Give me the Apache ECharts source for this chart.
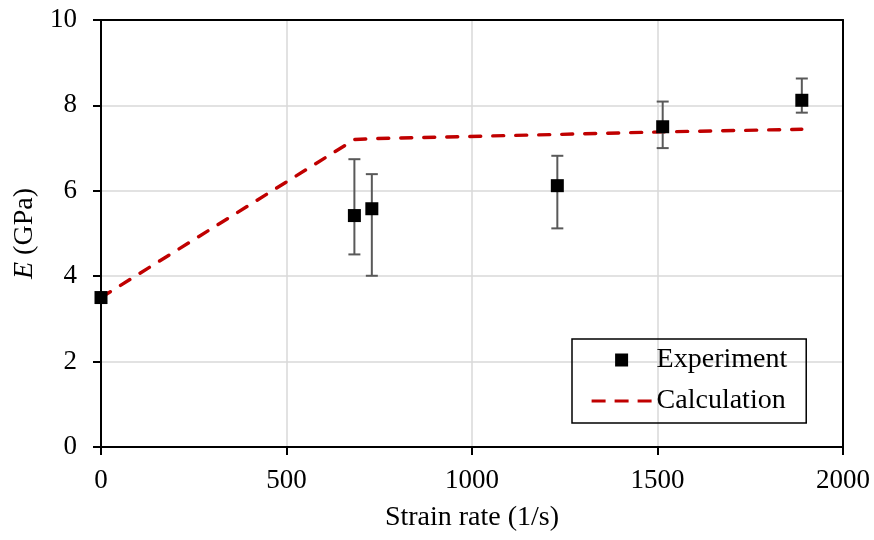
<!DOCTYPE html>
<html>
<head>
<meta charset="utf-8">
<script src="https://cdn.jsdelivr.net/npm/echarts@6/dist/echarts.min.js"></script>
<style>html,body{margin:0;padding:0;background:#fff}#c{width:874px;height:540px}</style>
</head>
<body>
<div id="c"></div>
<script>
// Experimental data
var expX = [0, 683, 730, 1230, 1514, 1889];
var expY = [3.50, 5.42, 5.58, 6.12, 7.50, 8.12];
var errLow = [3.50, 4.51, 4.01, 5.12, 7.00, 7.83];
var errHigh = [3.50, 6.74, 6.39, 6.82, 8.09, 8.63];
// Calculation
var calcX = [0, 683, 730, 1230, 1514, 1889];
var calcY = [3.50, 7.20, 7.22, 7.32, 7.38, 7.44];
// Axis ticks
var xTicks = [0, 500, 1000, 1500, 2000];
var yTicks = [0, 2, 4, 6, 8, 10];

var FONT = '"Liberation Serif", "Times New Roman", serif';
var chart = echarts.init(document.getElementById('c'), null, {renderer: 'canvas'});

var errData = expX.map(function (x, i) { return [x, errLow[i], errHigh[i]]; });
var expData = expX.map(function (x, i) { return [x, expY[i]]; });
var calcData = calcX.map(function (x, i) { return [x, calcY[i]]; });

var xMin = xTicks[0], xMax = xTicks[xTicks.length - 1];
var yMin = yTicks[0], yMax = yTicks[yTicks.length - 1];

chart.setOption({
  animation: false,
  backgroundColor: '#fff',
  grid: {left: 101, right: 31, top: 20, bottom: 93},
  xAxis: [{
    type: 'value', min: xMin, max: xMax, interval: 500,
    name: 'Strain rate (1/s)', nameLocation: 'middle', nameGap: 57,
    nameTextStyle: {fontFamily: FONT, fontSize: 28, color: '#000'},
    axisLine: {show: true, onZero: false, lineStyle: {color: '#000', width: 2}},
    axisTick: {show: true, length: 8, lineStyle: {color: '#000', width: 2}},
    axisLabel: {fontFamily: FONT, fontSize: 27, color: '#000', margin: 20,
      formatter: function (v) { return String(v); }},
    splitLine: {show: true, showMinLine: false, showMaxLine: false,
      lineStyle: {color: '#d9d9d9', width: 1.5}},
    z: 1
  }, {
    type: 'value', position: 'top', min: xMin, max: xMax, interval: 500,
    axisLine: {show: true, onZero: false, lineStyle: {color: '#000', width: 2}},
    axisTick: {show: false}, axisLabel: {show: false}, splitLine: {show: false}, z: 3
  }],
  yAxis: [{
    type: 'value', min: yMin, max: yMax, interval: 2,
    name: '{i|E} (GPa)', nameLocation: 'middle', nameGap: 60, nameRotate: 90,
    nameTextStyle: {fontFamily: FONT, fontSize: 28, color: '#000',
      rich: {i: {fontFamily: FONT, fontSize: 28, fontStyle: 'italic', color: '#000'}}},
    axisLine: {show: true, onZero: false, lineStyle: {color: '#000', width: 2}},
    axisTick: {show: true, length: 8, lineStyle: {color: '#000', width: 2}},
    axisLabel: {fontFamily: FONT, fontSize: 27, color: '#000', margin: 24},
    splitLine: {show: true, showMinLine: false, showMaxLine: false,
      lineStyle: {color: '#d9d9d9', width: 1.5}},
    z: 3
  }, {
    type: 'value', position: 'right', min: yMin, max: yMax, interval: 2,
    axisLine: {show: true, onZero: false, lineStyle: {color: '#000', width: 2}},
    axisTick: {show: false}, axisLabel: {show: false}, splitLine: {show: false}, z: 3
  }],
  legend: {
    left: 572, top: 339, orient: 'vertical',
    borderColor: '#000', borderWidth: 1.5, padding: [7, 19, 8, 18],
    itemWidth: 60, itemHeight: 13, itemGap: 13,
    textStyle: {fontFamily: FONT, fontSize: 28, color: '#000', lineHeight: 28},
    data: [
      {name: 'Experiment', icon: 'path://M0,0L10,0L10,10L0,10Z'},
      {name: 'Calculation', itemStyle: {opacity: 0},
        lineStyle: {color: '#c00000', width: 3.2, type: [14, 9], cap: 'butt'}}
    ]
  },
  series: [
    {
      name: 'Calculation', type: 'line', data: calcData, symbol: 'none', z: 2,
      lineStyle: {color: '#c00000', width: 3.4, type: [11, 12], cap: 'round'},
      itemStyle: {color: '#c00000'}
    },
    {
      name: 'errorbars', type: 'custom', data: errData, z: 3,
      renderItem: function (params, api) {
        var x = api.value(0), lo = api.value(1), hi = api.value(2);
        if (hi - lo < 1e-6) return {type: 'group', children: []};
        var pLo = api.coord([x, lo]), pHi = api.coord([x, hi]);
        var w = 6;
        var st = {stroke: '#595959', lineWidth: 2};
        return {type: 'group', children: [
          {type: 'line', shape: {x1: pLo[0], y1: pLo[1], x2: pHi[0], y2: pHi[1]}, style: st},
          {type: 'line', shape: {x1: pLo[0] - w, y1: pLo[1], x2: pLo[0] + w, y2: pLo[1]}, style: st},
          {type: 'line', shape: {x1: pHi[0] - w, y1: pHi[1], x2: pHi[0] + w, y2: pHi[1]}, style: st}
        ]};
      },
      encode: {x: 0, y: [1, 2]}
    },
    {
      name: 'Experiment', type: 'scatter', data: expData, z: 4,
      symbol: 'rect', symbolSize: 13, symbolKeepAspect: true,
      itemStyle: {color: '#000', opacity: 1}
    }
  ]
});
</script>
</body>
</html>
